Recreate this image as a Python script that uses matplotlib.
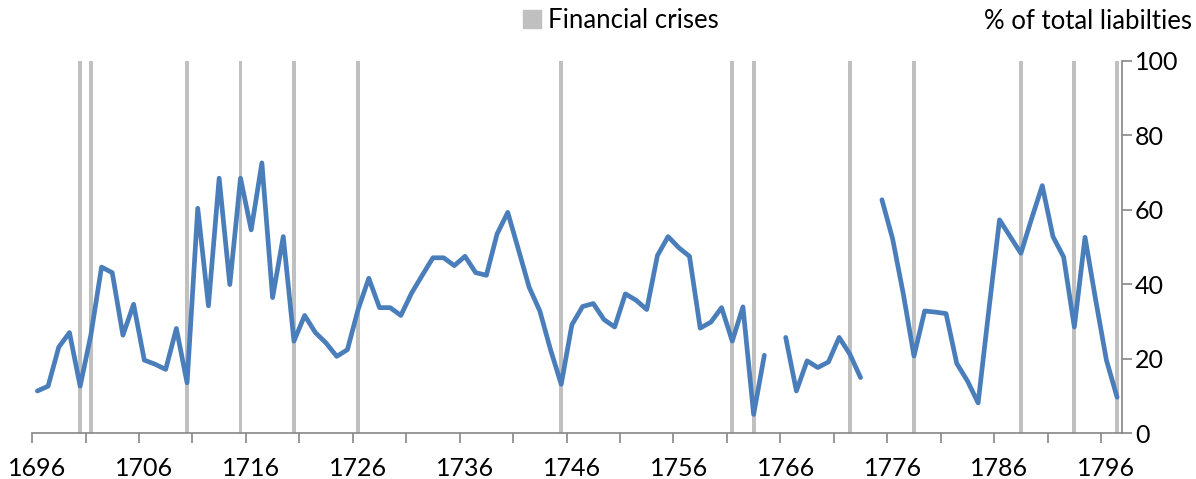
import numpy as np
import matplotlib.pyplot as plt
from matplotlib.patches import Patch

plt.rcParams['font.family'] = ['Lato', 'DejaVu Sans']

years = np.arange(1696, 1798)

# share of total liabilities, one value per year (nan = no data)
share = [
    11.3, 12.6, 23.1, 27.0, 12.6, 26.3, 44.6, 43.1, 26.3, 34.6,   # 1696-1705
    19.6, 18.5, 17.1, 28.1, 13.5, 60.4, 34.2, 68.5, 39.9, 68.5,   # 1706-1715
    54.6, 72.6, 36.4, 52.8, 24.7, 31.6, 27.0, 24.2, 20.6, 22.4,   # 1716-1725
    33.2, 41.6, 33.7, 33.7, 31.6, 37.6, 42.4, 47.1, 47.1, 45.0,   # 1726-1735
    47.5, 43.1, 42.4, 53.5, 59.3, 49.3, 39.2, 32.8, 22.4, 13.1,   # 1736-1745
    29.1, 34.0, 34.8, 30.5, 28.5, 37.4, 35.7, 33.2, 47.7, 52.8,   # 1746-1755
    49.8, 47.5, 28.2, 29.8, 33.7, 24.7, 33.9, 5.0, 20.9, np.nan,  # 1756-1765
    25.7, 11.3, 19.4, 17.6, 19.1, 25.7, 21.2, 14.9, np.nan, 62.7, # 1766-1775
    52.2, 37.4, 20.7, 32.8, 32.5, 32.1, 18.7, 14.0, 8.1, 33.0,    # 1776-1785
    57.3, 52.8, 48.3, 57.6, 66.5, 52.8, 47.3, 28.5, 52.6, 35.7,   # 1786-1795
    19.6, 9.6,                                                    # 1796-1797
]

crisis_years = [1700, 1701, 1710, 1715, 1720, 1726, 1745, 1761, 1763,
                1772, 1778, 1788, 1793, 1797]

label_years = list(range(1696, 1797, 10))
y_ticks = [0, 20, 40, 60, 80, 100]

fig = plt.figure(figsize=(11.96, 4.79), dpi=100)
ax = fig.add_axes([0.0268, 0.096, 0.9117, 0.7767])

ax.bar(crisis_years, [100] * len(crisis_years), width=0.36,
       color='#c0c0c0', zorder=1)
ax.plot(years, share, color='#4a7ebb', lw=3.4, zorder=2,
        solid_capstyle='round', solid_joinstyle='round')

ax.set_xlim(1695.5, 1797.5)
ax.set_ylim(0, 100)

for s in ['top', 'left']:
    ax.spines[s].set_visible(False)
for s in ['bottom', 'right']:
    ax.spines[s].set_color('#868686')
    ax.spines[s].set_linewidth(1.2)

ax.set_xticks(label_years)
ax.set_xticklabels([str(y) for y in label_years], fontsize=18)
ax.set_xticks(np.arange(1695.5, 1797, 5), minor=True)
ax.tick_params(axis='x', which='major', length=0, pad=17)
ax.tick_params(axis='x', which='minor', length=7, width=1.2, color='#868686')

ax.yaxis.tick_right()
ax.set_yticks(y_ticks)
ax.set_yticklabels([str(v) for v in y_ticks], fontsize=18)
ax.tick_params(axis='y', length=7, width=1.2, color='#868686', pad=2)

fig.text(0.997, 0.955, '% of total liabilties', ha='right', va='center',
         fontsize=18.5)
fig.legend(handles=[Patch(color='#c0c0c0', label='Financial crises')],
           loc='center left', bbox_to_anchor=(0.437, 0.958), frameon=False,
           fontsize=18.5, handlelength=0.7, handleheight=0.7,
           handletextpad=0.3, borderpad=0, borderaxespad=0)

fig.savefig('out.png', dpi=100)
